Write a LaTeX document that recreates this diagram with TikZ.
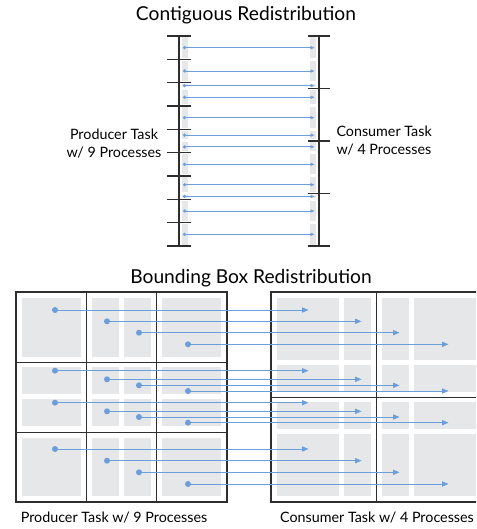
\documentclass[tikz,border=0pt]{standalone}
\usepackage{fontspec}
\setmainfont{Lato}
\usetikzlibrary{arrows.meta}
\definecolor{flowblue}{HTML}{6A9FDB}
\definecolor{blockgray}{HTML}{E6E7E8}
\definecolor{gridline}{HTML}{2E2E2E}

\begin{document}
\begin{tikzpicture}[x=1pt, y=-1pt,
      title/.style={font=\fontsize{19.2}{22}\selectfont, anchor=base},
      lbl/.style={font=\fontsize{14.3}{18}\selectfont},
      blk/.style={fill=blockgray, draw=none},
      axis/.style={draw=gridline, line width=1.4pt},
      tick/.style={draw=gridline, line width=1.4pt},
      dot/.style={circle, fill=flowblue, inner sep=0pt, minimum size=#1},
      flow/.style={draw=flowblue, line width=0.9pt, -{Triangle[length=#1, width=0.8*#1]}}]
  \clip (0,0) rectangle (476,529);
  \fill[white] (0,0) rectangle (476,529);

  % contiguous redistribution
  \node[title] (ctitle) at (246,21) {Contiguous Redistribution};
  \draw[axis] (179,36) -- (179,246);
  \draw[axis] (319,36) -- (319,246);
  \foreach \i in {0,...,9}
    \draw[tick] (167,36+\i*210/9) -- (191,36+\i*210/9);
  \foreach \j in {0,...,4}
    \draw[tick] (308,36+\j*52.5) -- (330,36+\j*52.5);
  \foreach \a/\b [count=\n] in {0/4,4/8,8/9,9/12,12/16,16/18,18/20,20/24,24/27,27/28,28/32,32/36} {
    \fill[blk] (182,36+\a*210/36+1.5) rectangle (188,36+\b*210/36-1.5);
    \fill[blk] (310,36+\a*210/36+1.5) rectangle (316,36+\b*210/36-1.5);
    \node[dot=3.5pt] (s\n) at (184.5,36+\a*105/36+\b*105/36) {};
    \coordinate (t\n) at (314.5,36+\a*105/36+\b*105/36);
    \draw[flow=4pt, line width=0.8pt] (s\n.center) -- (t\n);
  }
  \node[lbl, align=center] (prodlbl) at (114,144) {Producer Task\\w/ 9 Processes};
  \node[lbl, align=left, anchor=west] (conslbl) at (333,141) {Consumer Task\\w/ 4 Processes};

  % bounding box redistribution
  \node[title] (btitle) at (251,283) {Bounding Box Redistribution};
  % producer side, blocks
  \foreach \xa/\xb in {22/81,92/119,124/151,162/221}
    \foreach \ya/\yb in {298/357,367/394,399/426,438/496}
      \fill[blk] (\xa,\ya) rectangle (\xb,\yb);
  \draw[gridline, line width=0.9pt] (86.3,292) -- (86.3,502) (156.7,292) -- (156.7,502)
    (16,362) -- (227,362) (16,432) -- (227,432);
  \draw[gridline, line width=2.2pt] (16,292) rectangle (227,502);
  % consumer side, blocks
  \foreach \xa/\xb in {277/339,344/371,382/409,414/477}
    \foreach \ya/\yb in {298/360,365/392,402/429,434/496}
      \fill[blk] (\xa,\ya) rectangle (\xb,\yb);
  \draw[gridline, line width=0.9pt] (376.5,292) -- (376.5,502) (271,397) -- (482,397);
  \draw[gridline, line width=2.2pt] (271,292) rectangle (482,502);
  % arrows
  \foreach \row/\ys in {a/{310,321.3,332.7,344.3},b/{370.7,379.3,385.3,391},
                         c/{402.7,411.3,417,422.7},d/{449,460.7,472.3,484}}
    \foreach \y [count=\c] in \ys {
      \pgfmathsetmacro{\xs}{{55,107,139,188}[\c-1]}
      \pgfmathsetmacro{\xt}{{308.5,361.5,399.5,448.5}[\c-1]}
      \node[dot=6pt] (p\row\c) at (\xs,\y) {};
      \coordinate (q\row\c) at (\xt,\y);
      \draw[flow=6.5pt] (p\row\c.center) -- (q\row\c);
    }
  \node[lbl, anchor=base] (prodcap) at (114,522) {Producer Task w/ 9 Processes};
  \node[lbl, anchor=base] (conscap) at (377,522) {Consumer Task w/ 4 Processes};
\end{tikzpicture}
\end{document}
